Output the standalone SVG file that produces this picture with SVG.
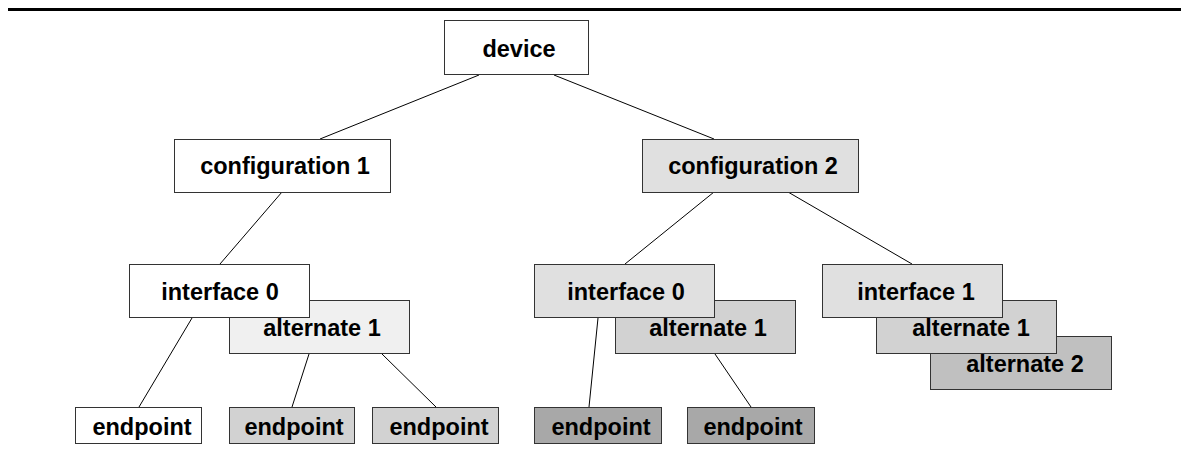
<svg xmlns="http://www.w3.org/2000/svg" width="1181" height="450" viewBox="0 0 1181 450">
<style>
  rect.n { stroke: #333; stroke-width: 1; }
  text { font-family: "Liberation Sans", Arial, sans-serif; font-weight: bold; font-size: 23.5px; fill: #000; text-anchor: middle; }
  .c line { stroke: #000; stroke-width: 1; }
</style>
<rect width="1181" height="450" fill="#fff"/>
<line x1="8" y1="9.5" x2="1181" y2="9.5" stroke="#000" stroke-width="3"/>
<g class="c" id="connectors">
  <line x1="479" y1="75" x2="320" y2="139"/>
  <line x1="554" y1="75" x2="714" y2="139"/>
  <line x1="282" y1="192" x2="220" y2="264"/>
  <line x1="714" y1="192" x2="625" y2="264"/>
  <line x1="788" y1="192" x2="912" y2="264"/>
  <line x1="192" y1="318" x2="139" y2="407"/>
  <line x1="309" y1="354" x2="292" y2="407"/>
  <line x1="382" y1="354" x2="436" y2="407"/>
  <line x1="598" y1="318" x2="589" y2="407"/>
  <line x1="715" y1="354" x2="751" y2="407"/>
</g>
<g id="device"><rect class="n" x="444.5" y="20.5" width="144" height="54" fill="#fff"/><text x="519" y="57">device</text></g>
<g id="config1"><rect class="n" x="174.5" y="139.5" width="216" height="53" fill="#fff"/><text x="285" y="174">configuration 1</text></g>
<g id="config2"><rect class="n" x="642.5" y="139.5" width="216" height="53" fill="#e0e0e0"/><text x="753" y="174">configuration 2</text></g>
<g id="alt1-left"><rect class="n" x="229.5" y="300.5" width="180" height="53" fill="#f0f0f0"/><text x="322" y="336">alternate 1</text></g>
<g id="iface0-left"><rect class="n" x="129.5" y="264.5" width="180" height="53" fill="#fff"/><text x="220" y="300">interface 0</text></g>
<g id="alt1-mid"><rect class="n" x="615.5" y="300.5" width="180" height="53" fill="#d2d2d2"/><text x="708" y="336">alternate 1</text></g>
<g id="iface0-right"><rect class="n" x="534.5" y="264.5" width="180" height="53" fill="#e0e0e0"/><text x="626" y="300">interface 0</text></g>
<g id="alt2-right"><rect class="n" x="930.5" y="336.5" width="181" height="53" fill="#c0c0c0"/><text x="1025" y="372">alternate 2</text></g>
<g id="alt1-right"><rect class="n" x="876.5" y="300.5" width="180" height="53" fill="#d2d2d2"/><text x="971" y="336">alternate 1</text></g>
<g id="iface1"><rect class="n" x="822.5" y="264.5" width="180" height="53" fill="#e0e0e0"/><text x="916" y="300">interface 1</text></g>
<g id="ep1"><rect class="n" x="75.5" y="407.5" width="126" height="36" fill="#fff"/><text x="142" y="435">endpoint</text></g>
<g id="ep2"><rect class="n" x="229.5" y="407.5" width="125" height="36" fill="#d2d2d2"/><text x="294" y="435">endpoint</text></g>
<g id="ep3"><rect class="n" x="372.5" y="407.5" width="126" height="36" fill="#d2d2d2"/><text x="439" y="435">endpoint</text></g>
<g id="ep4"><rect class="n" x="534.5" y="407.5" width="127" height="36" fill="#a8a8a8"/><text x="601" y="435">endpoint</text></g>
<g id="ep5"><rect class="n" x="687.5" y="407.5" width="127" height="36" fill="#a8a8a8"/><text x="753" y="435">endpoint</text></g>
</svg>
